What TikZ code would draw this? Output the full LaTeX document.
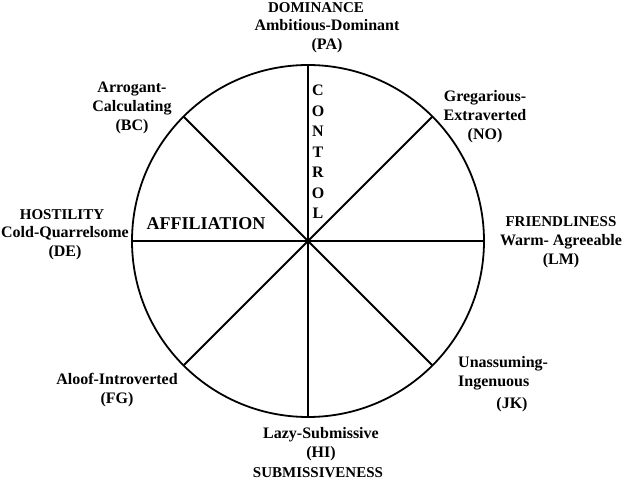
\documentclass[tikz,border=0pt]{standalone}
\usepackage{fontspec}
\setmainfont{Liberation Serif}
\begin{document}
\begin{tikzpicture}[x=1pt,y=-1pt,
  lbl/.style={font=\fontsize{16}{19}\selectfont\bfseries, align=center, inner sep=0pt},
  hdr/.style={font=\fontsize{15}{16}\selectfont\bfseries, inner sep=0pt},
  big/.style={font=\fontsize{18}{20}\selectfont\bfseries, inner sep=0pt},
  ctl/.style={font=\fontsize{16}{20.5}\selectfont\bfseries, align=center, inner sep=0pt},
  wheel/.style={draw, circle, minimum size=352pt, inner sep=0pt, outer sep=0pt, line width=1.8pt},
  spoke/.style={line width=1.8pt}]
\useasboundingbox (0,0) rectangle (624,484);
\node[wheel] (W) at (308,241) {};
\draw[spoke] (W.north) -- (W.south);
\draw[spoke] (W.west) -- (W.east);
\draw[spoke] (W.north west) -- (W.south east);
\draw[spoke] (W.north east) -- (W.south west);
% top
\node[hdr] (dom) at (316,8) {DOMINANCE};
\node[lbl] (pa) at (327,36) {Ambitious-Dominant\\(PA)};
% top left
\node[lbl] (bc) at (132,108) {Arrogant-\\Calculating\\(BC)};
% top right
\node[lbl] (no) at (485,117) {Gregarious-\\Extraverted\\(NO)};
% left
\node[hdr] (hos) at (62,215) {HOSTILITY};
\node[lbl] (de) at (65,243) {Cold-Quarrelsome\\(DE)};
\node[big] (aff) at (206,224) {AFFILIATION};
% right
\node[hdr] (fri) at (561,222) {FRIENDLINESS};
\node[lbl] (lm) at (561,251) {Warm- Agreeable\\(LM)};
% bottom left
\node[lbl] (fg) at (117,390) {Aloof-Introverted\\(FG)};
% bottom right
\node[lbl, align=left, anchor=west] (jk) at (458,373) {Unassuming-\\Ingenuous};
\node[lbl] (jk2) at (512,405) {(JK)};
% bottom
\node[lbl] (hi) at (321,444) {Lazy-Submissive\\(HI)};
\node[hdr] (sub) at (318,473) {SUBMISSIVENESS};
% control
\node[ctl] (ctl) at (318,152) {C\\O\\N\\T\\R\\O\\L};
\end{tikzpicture}
\end{document}
